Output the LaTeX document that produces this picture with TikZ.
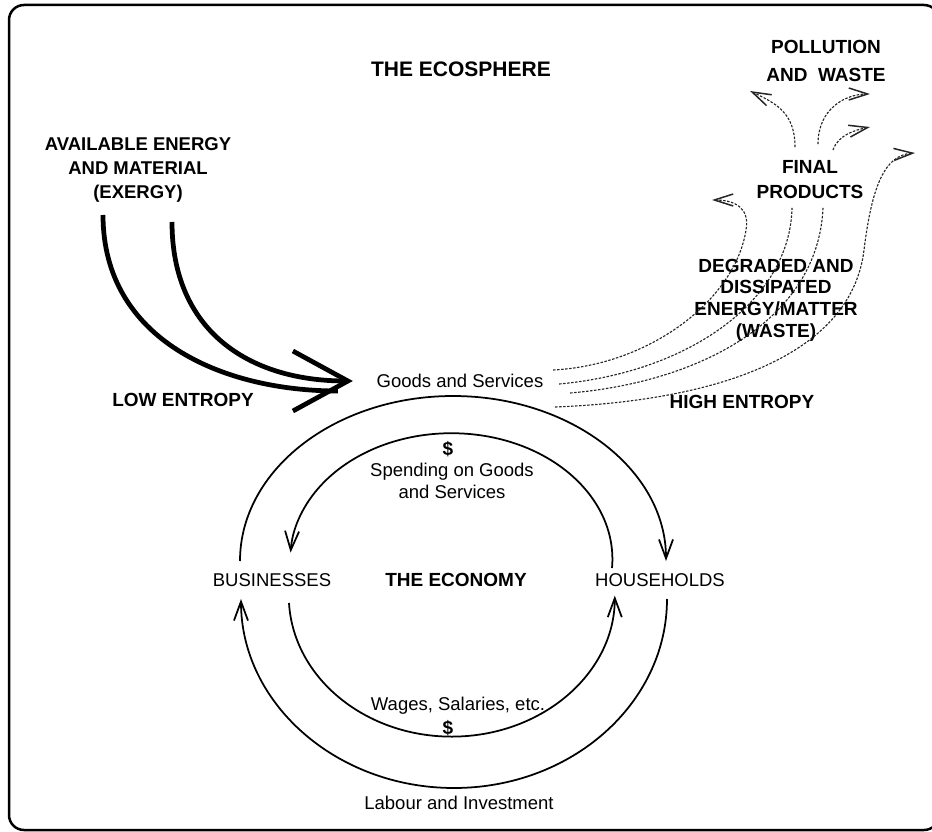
\documentclass[tikz,border=0pt]{standalone}
\usepackage{fontspec}
\setmainfont{Liberation Sans}
\usetikzlibrary{arrows.meta,positioning}

\begin{document}
\begin{tikzpicture}[x=0.4pt,y=-0.4pt,
  txt/.style={font=\fontsize{7.4}{8.8}\selectfont,align=center},
  hdr/.style={font=\fontsize{7.6}{9.6}\selectfont\bfseries,align=center},
  money/.style={line width=0.7pt,-{Straight Barb[length=7.6pt,width=5.6pt]}},
  waste/.style={line width=0.45pt,dash pattern=on 1pt off 0.6pt,black!85},
  wtip/.style={-{Straight Barb[length=7.5pt,width=4.8pt,line width=0.6pt]}},
  exergy/.style={line width=1.9pt}]
\useasboundingbox (0,0) rectangle (932,832);
\draw[line width=1pt,rounded corners=6pt] (9,5) rectangle (939,830);
%
\node[hdr,font=\fontsize{8.4}{10}\selectfont\bfseries] (sphere) at (461,69) {THE ECOSPHERE};
\node[hdr,font=\fontsize{7.4}{9.6}\selectfont\bfseries] (avail) at (138,170) {AVAILABLE ENERGY\\AND MATERIAL\\(EXERGY)};
\node[hdr,font=\fontsize{7.6}{11.2}\selectfont\bfseries] (pollu) at (826,61) {POLLUTION\\AND\ \ WASTE};
\node[hdr,font=\fontsize{7.6}{10}\selectfont\bfseries] (prod) at (810,180) {FINAL\\PRODUCTS};
\node[hdr,font=\fontsize{7.6}{8.7}\selectfont\bfseries] (degr) at (776,300) {DEGRADED AND\\DISSIPATED\\ENERGY/MATTER\\(WASTE)};
\node[hdr] (low) at (183,400) {LOW ENTROPY};
\node[hdr] (high) at (742,402) {HIGH ENTROPY};
\node[txt] (goods) at (460,381) {Goods and Services};
\node[hdr] (usd1) at (448,449) {\$};
\node[txt] (spend) at (452,481) {Spending on Goods\\and Services};
\node[txt] (biz) at (272,580) {BUSINESSES};
\node[hdr] (eco) at (456,580) {THE ECONOMY};
\node[txt] (hh) at (660,580) {HOUSEHOLDS};
\node[txt] (wages) at (458,706) {Wages, Salaries, etc.};
\node[hdr] (usd2) at (448,728) {\$};
\node[txt] (labour) at (459,803) {Labour and Investment};
%
\coordinate (wA) at (712,200);
\coordinate (wB) at (750,91);
\coordinate (wC) at (870,94);
\coordinate (wD) at (870,127);
\coordinate (wE) at (915,153);
%
\draw[exergy] ([shift={(-35,45)}]avail.center) .. controls +(0,125) and +(-115,0) .. ([shift={(-30,10)}]goods.west);
\draw[exergy,-{Straight Barb[length=22pt,width=24pt]}] ([shift={(34,52)}]avail.center) .. controls +(0,108) and +(-105,0) .. ([xshift=-6pt]goods.west);
%
\draw[money] ([shift={(-32,-19)}]biz.center) arc[start angle=180,end angle=0,x radius=85.2pt,y radius=66pt];
\draw[money] ([shift={(-48,-12)}]hh.center) arc[start angle=-4,end angle=177,x radius=64.4pt,y radius=50.4pt];
\draw[money] ([shift={(7,19)}]hh.center) arc[start angle=0,end angle=-180,x radius=85.2pt,y radius=75.6pt];
\draw[money] ([shift={(17,23)}]biz.center) arc[start angle=183,end angle=360,x radius=65.2pt,y radius=56.4pt];
%
\draw[waste,wtip] ([shift={(1,-11)}]goods.east) .. controls (650,365) and (735,300) .. (746,230) .. controls (750,208) and (735,200) .. (wA);
\draw[waste] ([shift={(7,3)}]goods.east) .. controls (690,372) and (790,300) .. ([xshift=-18*0.4pt]prod.south);
\draw[waste] ([shift={(18,12)}]goods.east) .. controls (700,382) and (818,320) .. ([xshift=13*0.4pt]prod.south);
\draw[waste,wtip] ([shift={(3,26)}]goods.east) .. controls (730,400) and (852,350) .. (864,250) .. controls (872,185) and (885,155) .. (wE);
\draw[waste,wtip] ([shift={(-15,-5)}]prod.north) .. controls +(0,-35) and +(25,12) .. (wB);
\draw[waste,wtip] ([shift={(8,-8)}]prod.north) .. controls +(0,-35) and +(-25,0) .. (wC);
\draw[waste,wtip] ([shift={(23,-2)}]prod.north) .. controls +(5,-15) and +(-15,3) .. (wD);
\end{tikzpicture}
\end{document}
